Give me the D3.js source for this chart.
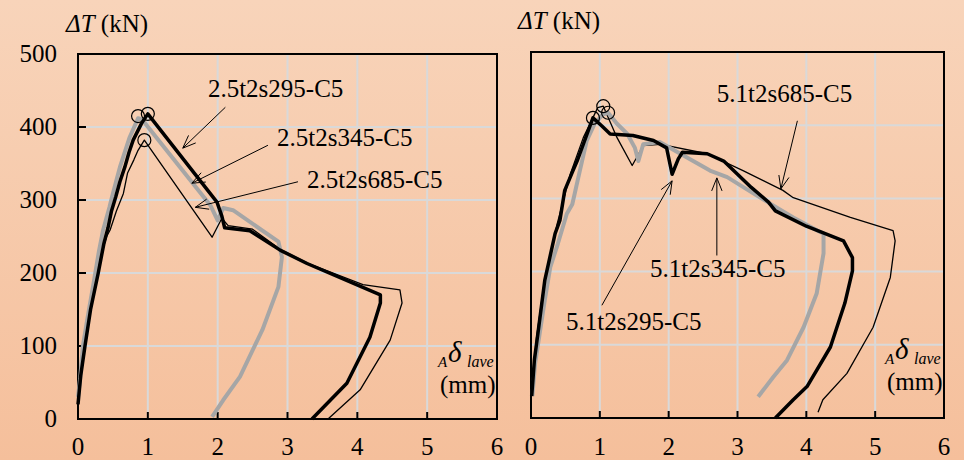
<!DOCTYPE html>
<html>
<head>
<meta charset="utf-8">
<script src="https://cdn.jsdelivr.net/npm/d3@7"></script>
<style>
  body { margin: 0; }
  svg text { font-family: "Liberation Serif", Tinos, "DejaVu Serif", serif; }
  .grid line { stroke: #d9d9d9; stroke-width: 2; }
  .frame { fill: none; stroke: #000; stroke-width: 2; }
  .tick-label { font-size: 25px; fill: #000; }
  .note { font-size: 25px; fill: #000; }
  .arrow { stroke: #000; stroke-width: 1; fill: none; }
</style>
</head>
<body>
<svg width="964" height="460"></svg>
<script>
// ---- data ----
const xTicks = [0, 1, 2, 3, 4, 5, 6];
const yTicks = [0, 100, 200, 300, 400, 500];

const left295 = [[0,20],[0.04,60],[0.1,100],[0.18,150],[0.29,200],[0.37,240],[0.43,262],[0.48,285],[0.54,304],[0.6,325],[0.67,345],[0.73,365],[0.79,382],[0.91,405],[1.0,418],[1.99,297],[2.06,278],[2.1,262],[2.46,258],[2.9,231],[3.28,213],[4.33,170],[4.33,159],[4.18,112],[3.85,49],[3.35,0]];
const left345 = [[0,30],[0.03,55],[0.07,100],[0.13,135],[0.23,190],[0.3,230],[0.36,259],[0.45,290],[0.5,309],[0.6,345],[0.74,386],[0.86,412],[0.92,410],[1.9,292],[2.0,272],[2.08,289],[2.22,286],[2.87,243],[2.92,222],[2.87,181],[2.64,122],[2.32,58],[2.08,26],[1.92,3]];
const left685 = [[0,20],[0.05,80],[0.12,130],[0.22,180],[0.33,225],[0.41,250],[0.46,259],[0.55,285],[0.65,309],[0.71,337],[0.8,355],[0.86,368],[0.95,382],[1.92,249],[2.06,275],[2.15,265],[2.5,260],[2.9,232],[3.3,213],[4.08,184],[4.61,177],[4.64,159],[4.47,108],[4.04,40],[3.58,0]];

const right295 = [[0.01,30],[0.05,80],[0.1,115],[0.2,188],[0.35,252],[0.42,270],[0.49,311],[0.61,338],[0.67,351],[0.76,374],[0.9,410],[1.03,399],[1.15,388],[1.48,386],[1.78,379],[1.97,369],[2.05,333],[2.14,354],[2.2,363],[2.56,361],[2.8,351],[3.2,315],[3.45,295],[3.55,283],[4.0,262],[4.54,242],[4.67,219],[4.67,201],[4.56,157],[4.35,97],[4.01,43],[3.81,25],[3.55,0]];
const right345 = [[0.02,30],[0.06,75],[0.2,161],[0.28,206],[0.39,238],[0.52,279],[0.6,292],[0.71,338],[0.81,379],[0.93,403],[1.05,415],[1.12,417],[1.25,402],[1.4,388],[1.51,369],[1.56,351],[1.63,374],[1.87,377],[2.17,361],[2.6,338],[2.85,329],[3.33,301],[3.81,274],[4.16,256],[4.25,252],[4.25,225],[4.15,170],[3.96,124],[3.72,79],[3.52,56],[3.3,29]];
const right685 = [[0.01,30],[0.08,110],[0.2,190],[0.38,265],[0.57,333],[0.76,383],[0.97,424],[1.05,426],[1.25,383],[1.47,345],[1.63,372],[1.87,374],[2.56,361],[3.08,338],[3.66,311],[3.81,301],[4.64,274],[5.26,256],[5.29,242],[5.22,192],[4.97,124],[4.59,61],[4.24,25],[4.17,8]];

const leftPeaks = [[0.86,415],[1.0,418],[0.95,382]];
const rightPeaks = [[0.9,410],[1.05,426],[1.12,417]];

// labels: text position, arrow tail, arrow tip (data units)
const leftNotes = [
  { name: "2.5t2s295-C5", text: [1.86, 441], tail: [2.11, 427], tip: [1.5, 371] },
  { name: "2.5t2s345-C5", text: [2.85, 374], tail: [2.72, 375], tip: [1.63, 323] },
  { name: "2.5t2s685-C5", text: [3.28, 316], tail: [3.15, 325], tip: [1.68, 290] }
];
const rightNotes = [
  { name: "5.1t2s685-C5", text: [2.7, 432], tail: [3.87, 406], tip: [3.63, 313] },
  { name: "5.1t2s345-C5", text: [1.73, 192], tail: [2.7, 222], tip: [2.7, 328] },
  { name: "5.1t2s295-C5", text: [0.51, 120], tail: [1.03, 154], tip: [2.05, 324] }
];

const seriesStyle = [
  { key: "295", color: "#000", width: 3.5 },
  { key: "345", color: "#a6a6a6", width: 4 },
  { key: "685", color: "#000", width: 1.3 }
];

// ---- drawing ----
const svg = d3.select("svg");

const defs = svg.append("defs");
const grad = defs.append("linearGradient").attr("id", "bg")
  .attr("x1", 0).attr("y1", 0).attr("x2", 0).attr("y2", 1);
grad.append("stop").attr("offset", "0%").attr("stop-color", "#f8d4ba");
grad.append("stop").attr("offset", "100%").attr("stop-color", "#f5bf9b");

svg.append("rect").attr("width", 964).attr("height", 460).attr("fill", "url(#bg)");

function drawPanel(box, curves, peaks, notes, showY, yLabelPos, dPos) {
  const x = d3.scaleLinear().domain([0, 6]).range([box.left, box.right]);
  const y = d3.scaleLinear().domain([0, 500]).range([box.bottom, box.top]);
  const g = svg.append("g");

  const grid = g.append("g").attr("class", "grid");
  grid.selectAll(".gx").data(xTicks.slice(1, -1)).enter().append("line")
    .attr("x1", d => x(d)).attr("x2", d => x(d))
    .attr("y1", box.top).attr("y2", box.bottom);
  grid.selectAll(".gy").data(yTicks.slice(1, -1)).enter().append("line")
    .attr("x1", box.left).attr("x2", box.right)
    .attr("y1", d => y(d)).attr("y2", d => y(d));

  // inner ticks
  g.selectAll(".tx").data(xTicks.slice(1, -1)).enter().append("line")
    .attr("x1", d => x(d)).attr("x2", d => x(d))
    .attr("y1", box.bottom).attr("y2", box.bottom - 7)
    .attr("stroke", "#000").attr("stroke-width", 2);
  if (showY) {
    g.selectAll(".ty").data(yTicks.slice(1, -1)).enter().append("line")
      .attr("x1", box.left).attr("x2", box.left + 8)
      .attr("y1", d => y(d)).attr("y2", d => y(d))
      .attr("stroke", "#000").attr("stroke-width", 2);
  }

  g.append("rect").attr("class", "frame")
    .attr("x", box.left).attr("y", box.top)
    .attr("width", box.right - box.left).attr("height", box.bottom - box.top);

  const line = d3.line().x(d => x(d[0])).y(d => y(d[1]));
  // draw thin first, gray, then thick
  [2, 1, 0].forEach(i => {
    g.append("path").datum(curves[i])
      .attr("d", line)
      .attr("fill", "none")
      .attr("stroke", seriesStyle[i].color)
      .attr("stroke-width", seriesStyle[i].width)
      .attr("stroke-linejoin", "round");
  });

  g.selectAll(".peak").data(peaks).enter().append("circle")
    .attr("cx", d => x(d[0])).attr("cy", d => y(d[1])).attr("r", 6.5)
    .attr("fill", "none").attr("stroke", "#000").attr("stroke-width", 1.2);

  // notes with arrows
  notes.forEach(n => {
    const x0 = x(n.tail[0]), y0 = y(n.tail[1]);
    const x1 = x(n.tip[0]), y1 = y(n.tip[1]);
    g.append("line").attr("class", "arrow")
      .attr("x1", x0).attr("y1", y0).attr("x2", x1).attr("y2", y1);
    const ang = Math.atan2(y0 - y1, x0 - x1);
    [-0.38, 0.38].forEach(da => {
      g.append("line").attr("class", "arrow")
        .attr("x1", x1).attr("y1", y1)
        .attr("x2", x1 + 14 * Math.cos(ang + da))
        .attr("y2", y1 + 14 * Math.sin(ang + da));
    });
    g.append("text").attr("class", "note")
      .attr("x", x(n.text[0])).attr("y", y(n.text[1]))
      .text(n.name);
  });

  if (showY) {
    g.selectAll(".ly").data(yTicks).enter().append("text")
      .attr("class", "tick-label")
      .attr("x", box.left - 21).attr("y", d => y(d) + 8)
      .attr("text-anchor", "end")
      .text(d => d);
  }
  g.selectAll(".lx").data(xTicks).enter().append("text")
    .attr("class", "tick-label")
    .attr("x", d => x(d)).attr("y", 455)
    .attr("text-anchor", "middle")
    .text(d => d);

  // y title
  const yt = g.append("text").attr("x", yLabelPos[0]).attr("y", yLabelPos[1])
    .attr("font-size", 25);
  yt.append("tspan").attr("font-style", "italic").text("\u0394T");
  yt.append("tspan").text(" (kN)");

  // x title
  g.append("text").attr("x", dPos[0]).attr("y", dPos[1] + 5)
    .attr("font-size", 15).attr("font-style", "italic").text("A");
  g.append("text").attr("x", dPos[0] + 10).attr("y", dPos[1])
    .attr("font-size", 29).attr("font-style", "italic").text("\u03b4");
  g.append("text").attr("x", dPos[0] + 29).attr("y", dPos[1] + 5)
    .attr("font-size", 16).attr("font-style", "italic").text("lave");
  g.append("text").attr("x", dPos[0] + 2).attr("y", dPos[1] + 31)
    .attr("font-size", 25).text("(mm)");
}

drawPanel({ left: 78, right: 497, top: 54, bottom: 419 },
  [left295, left345, left685], leftPeaks, leftNotes, true, [66, 32], [438, 362]);
drawPanel({ left: 531, right: 944, top: 52, bottom: 418 },
  [right295, right345, right685], rightPeaks, rightNotes, false, [518, 29], [885, 359]);
</script>
</body>
</html>
